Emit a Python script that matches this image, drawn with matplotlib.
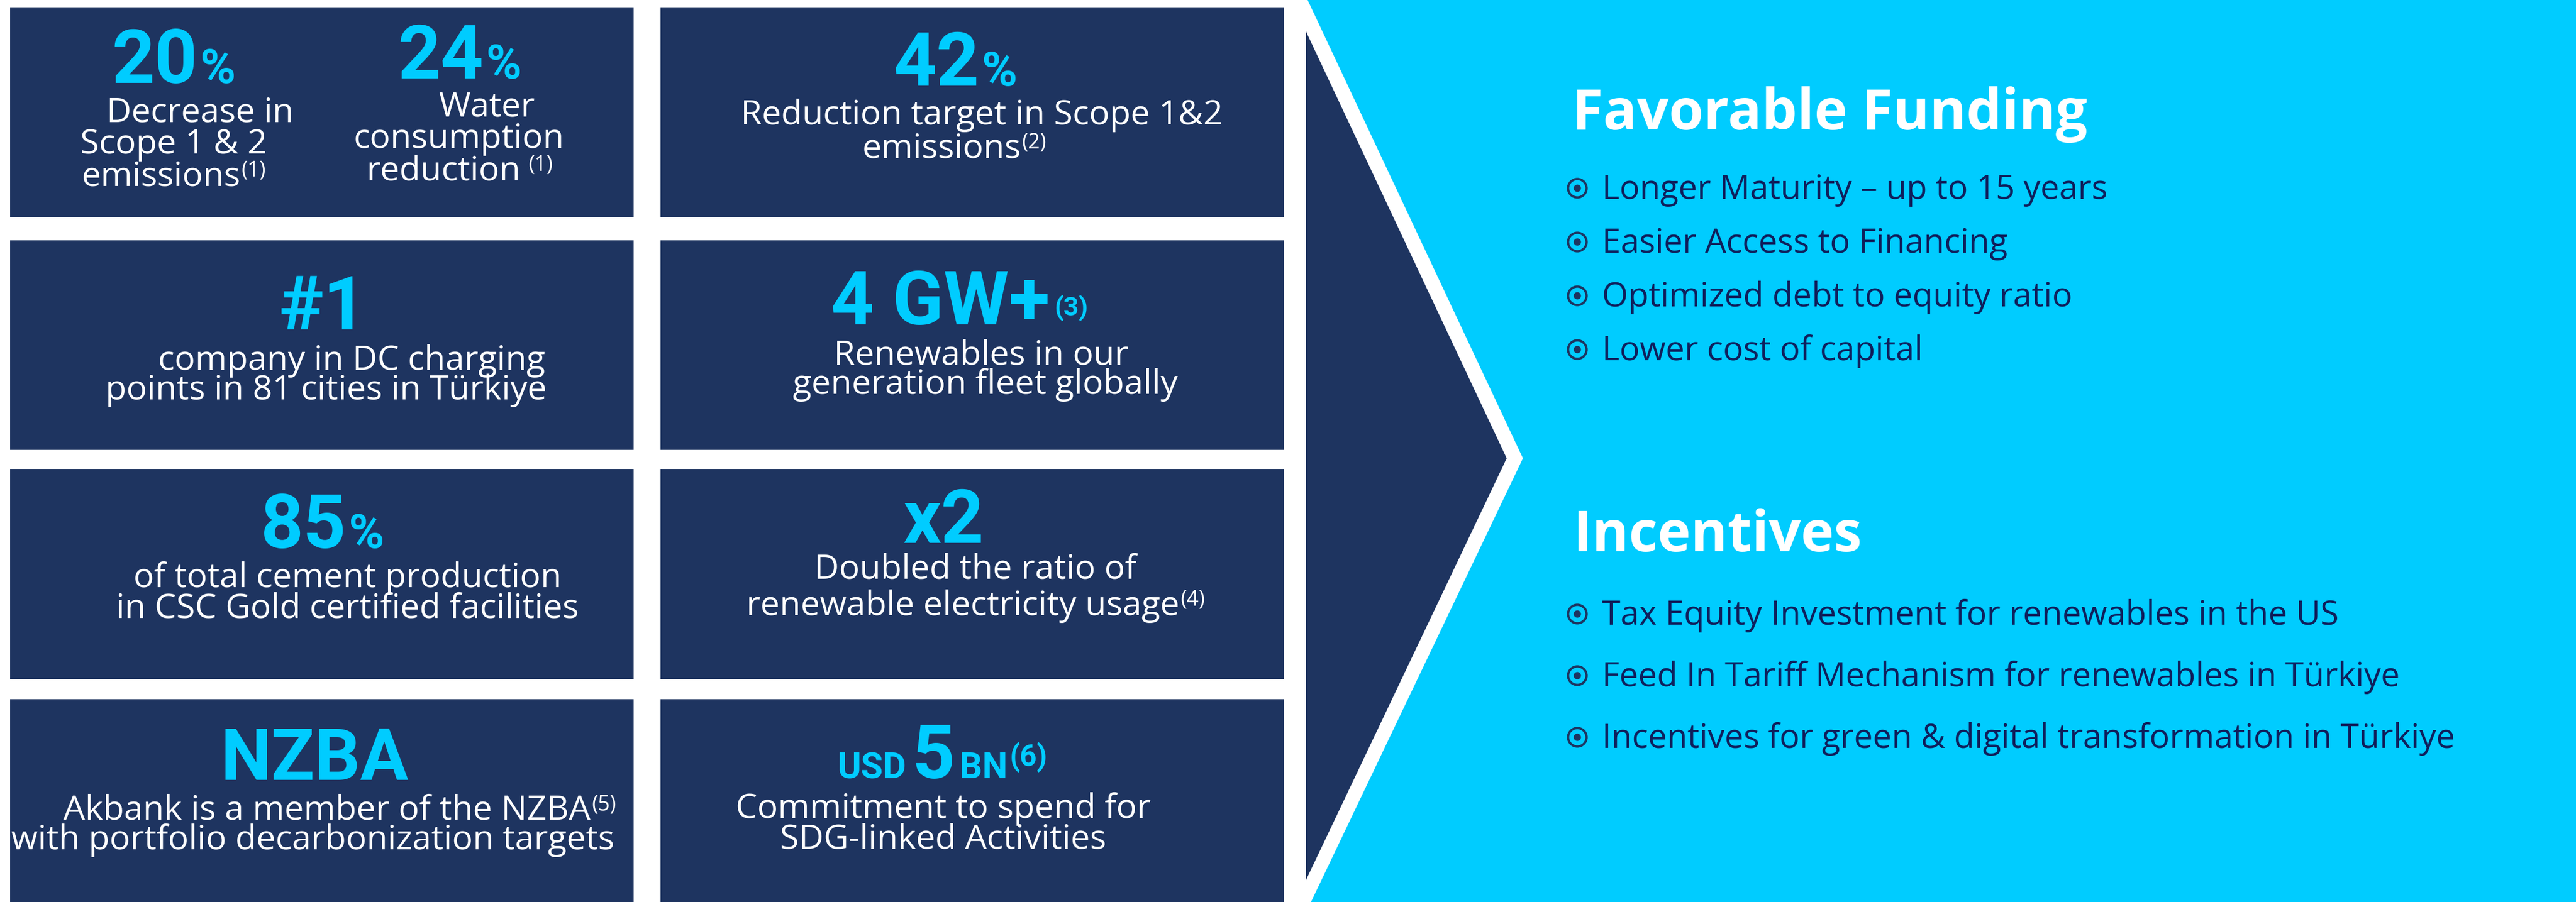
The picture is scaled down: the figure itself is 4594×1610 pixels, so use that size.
import matplotlib.pyplot as plt
from matplotlib.patches import Rectangle, Polygon, Circle

NAVY = "#1e3460"
CYAN = "#00ccff"
INK = "#0f1f5c"

# tile texts (left grid, row by row)
big_numbers = ["20", "24", "42", "#1", "4 GW+", "85", "x2", "NZBA", "5"]
number_units = ["%", "%", "%", "", "", "%", "", "", ""]
notes = ["(1)", "(1)", "(2)", "(3)", "(4)", "(5)", "(6)"]
captions_20 = ["Decrease in", "Scope 1 & 2", "emissions"]
captions_24 = ["Water", "consumption", "reduction"]
captions_42 = ["Reduction target in Scope 1&2", "emissions"]
captions_1 = ["company in DC charging", "points in 81 cities in Türkiye"]
captions_4gw = ["Renewables in our", "generation fleet globally"]
captions_85 = ["of total cement production", "in CSC Gold certified facilities"]
captions_x2 = ["Doubled the ratio of", "renewable electricity usage"]
captions_nzba = ["Akbank is a member of the NZBA", "with portfolio decarbonization targets"]
captions_usd = ["Commitment to spend for", "SDG-linked Activities"]

# right panel
heading_funding = "Favorable Funding"
funding_items = ["Longer Maturity – up to 15 years", "Easier Access to Financing",
                 "Optimized debt to equity ratio", "Lower cost of capital"]
heading_incentives = "Incentives"
incentive_items = ["Tax Equity Investment for renewables in the US",
                   "Feed In Tariff Mechanism for renewables in Türkiye",
                   "Incentives for green & digital transformation in Türkiye"]

W, H = 4594, 1610
fig = plt.figure(figsize=(W / 100, H / 100), dpi=100)
ax = fig.add_axes([0, 0, 1, 1])
ax.set_xlim(0, W)
ax.set_ylim(H, 0)
ax.axis("off")
renderer = fig.canvas.get_renderer()

BIG = dict(family="Roboto", weight="bold", color=CYAN)
BODY = dict(family="Open Sans", color="white")
CAP_SIZE = 44
NOTE_SIZE = 27

# background shapes
cols = [(18, 1130), (1178, 2290)]
rows = [(13, 388), (429, 803), (837, 1212), (1248, 1610)]
for x0, x1 in cols:
    for y0, y1 in rows:
        ax.add_patch(Rectangle((x0, y0), x1 - x0, y1 - y0, color=NAVY, lw=0))
ax.add_patch(Polygon([(2332, 0), (W, 0), (W, H), (2338, H), (2716, 818)], color=CYAN, lw=0))
ax.add_patch(Polygon([(2329, 56), (2687, 818), (2329, 1571)], color=NAVY, lw=0))


def put(parts, cx, base):
    # parts: (text, size, dy, gap, style); the group is centred on cx
    objs, total = [], 0
    for s, size, dy, gap, style in parts:
        t = ax.text(0, base + dy, s, fontsize=size, ha="left", va="baseline", **style)
        w = t.get_window_extent(renderer).width
        objs.append((t, w, gap))
        total += w + gap
    x = cx - total / 2
    for t, w, gap in objs:
        x += gap
        t.set_x(x)
        x += w


def caption(s, cx, base, note=None, dy=-18, gap=2):
    parts = [(s, CAP_SIZE, 0, 0, BODY)]
    if note:
        parts.append((note, NOTE_SIZE, dy, gap, BODY))
    put(parts, cx, base)


def number(i, cx, base, size=96):
    parts = [(big_numbers[i], size, 0, 0, BIG)]
    if number_units[i]:
        parts.append((number_units[i], 62, 0, 4, BIG))
    put(parts, cx, base)


# row 1
number(0, 310, 148)
caption(captions_20[0], 357, 218)
caption(captions_20[1], 310, 274)
caption(captions_20[2], 310, 332, notes[0])
number(1, 820, 140)
caption(captions_24[0], 868, 208)
caption(captions_24[1], 818, 264)
caption(captions_24[2], 820, 322, notes[1], gap=14)
number(2, 1704, 153)
caption(captions_42[0], 1751, 222)
caption(captions_42[1], 1702, 281, notes[2], dy=-16)

# row 2
number(3, 576, 588)
caption(captions_1[0], 627, 660)
caption(captions_1[1], 581, 713)
put([(big_numbers[4], 96, 0, 0, BIG), (notes[3], 34, -16, 8, BIG)], 1711, 579)
caption(captions_4gw[0], 1750, 650)
caption(captions_4gw[1], 1757, 703)

# row 3
number(5, 575, 978)
caption(captions_85[0], 620, 1048)
caption(captions_85[1], 620, 1102)
number(6, 1683, 969)
caption(captions_x2[0], 1739, 1032)
caption(captions_x2[1], 1740, 1098, notes[4])

# row 4
number(7, 562, 1392, size=92)
caption(captions_nzba[0], 606, 1462, notes[5], dy=-16)
caption(captions_nzba[1], 558, 1516)
put([("USD", 46, 0, 0, BIG), (big_numbers[8], 96, 0, 10, BIG),
     ("BN", 46, 0, 8, BIG), (notes[6], 38, -22, 4, BIG)], 1681, 1389)
caption(captions_usd[0], 1682, 1460)
caption(captions_usd[1], 1682, 1514)

# right panel
HEAD = dict(family="Open Sans", weight="bold", color="white", fontsize=72, va="baseline")
ITEM = dict(family="Open Sans", color=INK, fontsize=43, va="baseline")


def bullet(y):
    ax.add_patch(Circle((2813, y), 16.5, fill=False, lw=3, edgecolor=NAVY))
    ax.add_patch(Circle((2813, y), 6.5, color=NAVY, lw=0))


ax.text(2804, 231, heading_funding, **HEAD)
for i, s in enumerate(funding_items):
    base = 355 + i * 96
    bullet(base - 19)
    ax.text(2857, base, s, **ITEM)

ax.text(2806, 984, heading_incentives, **HEAD)
for i, s in enumerate(incentive_items):
    base = 1115 + i * 110
    bullet(base - 19)
    ax.text(2857, base, s, **ITEM)

fig.savefig("out.png", dpi=100, facecolor="white")
